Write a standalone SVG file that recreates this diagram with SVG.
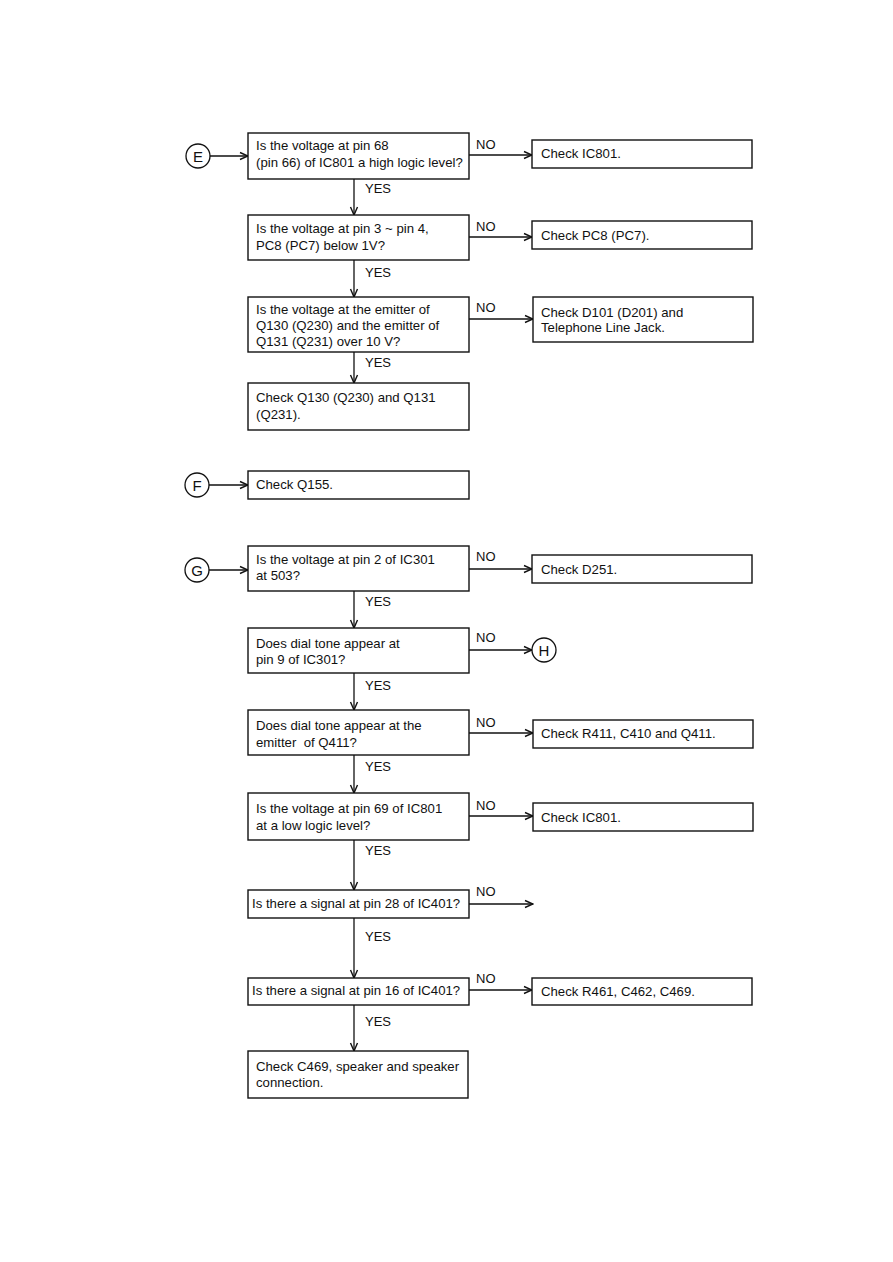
<svg xmlns="http://www.w3.org/2000/svg" width="893" height="1262" viewBox="0 0 893 1262">
<defs>
<marker id="ah" viewBox="0 0 10 10" refX="9" refY="5" markerWidth="10" markerHeight="10" markerUnits="userSpaceOnUse" orient="auto">
<path d="M1,1.5 L9,5 L1,8.5" fill="none" stroke="#111" stroke-width="1.4"/>
</marker>
</defs>
<style>
.box{fill:#fff;stroke:#111;stroke-width:1.4}
.circ{fill:#fff;stroke:#111;stroke-width:1.3}
.t{font-family:"Liberation Sans",Arial,sans-serif;font-size:13.2px;fill:#111}
.c{font-family:"Liberation Sans",Arial,sans-serif;font-size:15px;fill:#111;text-anchor:middle}
.lbl{font-family:"Liberation Sans",Arial,sans-serif;font-size:13px;fill:#111}
.ln{fill:none;stroke:#111;stroke-width:1.3;marker-end:url(#ah)}
</style>
<rect width="893" height="1262" fill="#fff"/>

<g id="connectors">
<line class="ln" x1="210" y1="156" x2="248" y2="156"/>
<line class="ln" x1="469" y1="155" x2="532" y2="155"/>
<line class="ln" x1="354" y1="179" x2="354" y2="215"/>
<line class="ln" x1="469" y1="237" x2="532" y2="237"/>
<line class="ln" x1="354" y1="260" x2="354" y2="297"/>
<line class="ln" x1="469" y1="319" x2="533" y2="319"/>
<line class="ln" x1="354" y1="352" x2="354" y2="383"/>
<line class="ln" x1="209" y1="485" x2="248" y2="485"/>
<line class="ln" x1="209" y1="570" x2="248" y2="570"/>
<line class="ln" x1="469" y1="569" x2="532" y2="569"/>
<line class="ln" x1="354" y1="591" x2="354" y2="628"/>
<line class="ln" x1="469" y1="650" x2="532" y2="650"/>
<line class="ln" x1="354" y1="673" x2="354" y2="710"/>
<line class="ln" x1="469" y1="733" x2="533" y2="733"/>
<line class="ln" x1="354" y1="755" x2="354" y2="793"/>
<line class="ln" x1="469" y1="816" x2="533" y2="816"/>
<line class="ln" x1="354" y1="840" x2="354" y2="890"/>
<line class="ln" x1="469" y1="904" x2="533" y2="904"/>
<line class="ln" x1="354" y1="918" x2="354" y2="978"/>
<line class="ln" x1="469" y1="990" x2="532" y2="990"/>
<line class="ln" x1="354" y1="1005" x2="354" y2="1051"/>
<text class="lbl" x="476" y="149">NO</text>
<text class="lbl" x="365" y="193">YES</text>
<text class="lbl" x="476" y="231">NO</text>
<text class="lbl" x="365" y="277">YES</text>
<text class="lbl" x="476" y="312">NO</text>
<text class="lbl" x="365" y="367">YES</text>
<text class="lbl" x="476" y="561">NO</text>
<text class="lbl" x="365" y="606">YES</text>
<text class="lbl" x="476" y="642">NO</text>
<text class="lbl" x="365" y="690">YES</text>
<text class="lbl" x="476" y="727">NO</text>
<text class="lbl" x="365" y="771">YES</text>
<text class="lbl" x="476" y="810">NO</text>
<text class="lbl" x="365" y="855">YES</text>
<text class="lbl" x="476" y="896">NO</text>
<text class="lbl" x="365" y="941">YES</text>
<text class="lbl" x="476" y="983">NO</text>
<text class="lbl" x="365" y="1026">YES</text>
</g>

<g id="E"><circle class="circ" cx="198" cy="156" r="12"/><text class="c" x="198" y="161.5">E</text></g>
<g id="q1"><rect class="box" x="248" y="133" width="221" height="46"/>
<text class="t" x="256" y="150">Is the voltage at pin 68</text>
<text class="t" x="256" y="167">(pin 66) of IC801 a high logic level?</text></g>
<g id="r1"><rect class="box" x="532" y="140" width="220" height="28"/><text class="t" x="541" y="158">Check IC801.</text></g>
<g id="q2"><rect class="box" x="248" y="215" width="221" height="45"/>
<text class="t" x="256" y="233">Is the voltage at pin 3 ~ pin 4,</text>
<text class="t" x="256" y="250">PC8 (PC7) below 1V?</text></g>
<g id="r2"><rect class="box" x="532" y="221" width="220" height="28"/><text class="t" x="541" y="240">Check PC8 (PC7).</text></g>
<g id="q3"><rect class="box" x="248" y="297" width="221" height="55"/>
<text class="t" x="256" y="314">Is the voltage at the emitter of</text>
<text class="t" x="256" y="330">Q130 (Q230) and the emitter of</text>
<text class="t" x="256" y="346">Q131 (Q231) over 10 V?</text></g>
<g id="r3"><rect class="box" x="533" y="297" width="220" height="45"/>
<text class="t" x="541" y="317">Check D101 (D201) and</text>
<text class="t" x="541" y="332">Telephone Line Jack.</text></g>
<g id="r4"><rect class="box" x="248" y="383" width="221" height="47"/>
<text class="t" x="256" y="402">Check Q130 (Q230) and Q131</text>
<text class="t" x="256" y="419">(Q231).</text></g>

<g id="F"><circle class="circ" cx="197" cy="485" r="12"/><text class="c" x="197" y="490.5">F</text></g>
<g id="r5"><rect class="box" x="248" y="471" width="221" height="28"/><text class="t" x="256" y="489">Check Q155.</text></g>

<g id="G"><circle class="circ" cx="197" cy="570" r="12"/><text class="c" x="197" y="575.5">G</text></g>
<g id="q4"><rect class="box" x="248" y="546" width="221" height="45"/>
<text class="t" x="256" y="564">Is the voltage at pin 2 of IC301</text>
<text class="t" x="256" y="580">at 503?</text></g>
<g id="r6"><rect class="box" x="532" y="555" width="220" height="28"/><text class="t" x="541" y="574">Check D251.</text></g>
<g id="q5"><rect class="box" x="248" y="628" width="221" height="45"/>
<text class="t" x="256" y="648">Does dial tone appear at</text>
<text class="t" x="256" y="664">pin 9 of IC301?</text></g>
<g id="H"><circle class="circ" cx="544" cy="650" r="12"/><text class="c" x="544" y="655.5">H</text></g>
<g id="q6"><rect class="box" x="248" y="710" width="221" height="45"/>
<text class="t" x="256" y="730">Does dial tone appear at the</text>
<text class="t" x="256" y="747" xml:space="preserve">emitter  of Q411?</text></g>
<g id="r7"><rect class="box" x="533" y="720" width="220" height="28"/><text class="t" x="541" y="738">Check R411, C410 and Q411.</text></g>
<g id="q7"><rect class="box" x="248" y="793" width="221" height="47"/>
<text class="t" x="256" y="813">Is the voltage at pin 69 of IC801</text>
<text class="t" x="256" y="830">at a low logic level?</text></g>
<g id="r8"><rect class="box" x="533" y="803" width="220" height="28"/><text class="t" x="541" y="822">Check IC801.</text></g>
<g id="q8"><rect class="box" x="248" y="890" width="221" height="28"/>
<text class="t" x="252" y="908">Is there a signal at pin 28 of IC401?</text></g>
<g id="q9"><rect class="box" x="248" y="978" width="221" height="27"/>
<text class="t" x="252" y="995">Is there a signal at pin 16 of IC401?</text></g>
<g id="r9"><rect class="box" x="532" y="978" width="220" height="27"/><text class="t" x="541" y="996">Check R461, C462, C469.</text></g>
<g id="r10"><rect class="box" x="248" y="1051" width="220" height="47"/>
<text class="t" x="256" y="1071">Check C469, speaker and speaker</text>
<text class="t" x="256" y="1087">connection.</text></g>
</svg>
